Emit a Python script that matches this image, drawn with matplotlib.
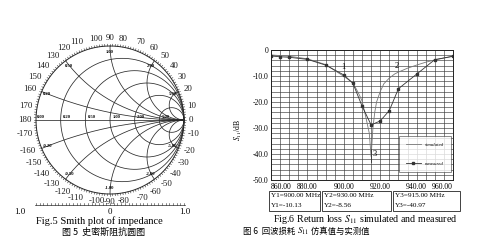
import numpy as np
import matplotlib
matplotlib.use("Agg")
import matplotlib.pyplot as plt
from matplotlib.patches import Rectangle

plt.rcParams['font.family'] = ['Liberation Serif', 'Noto Sans CJK SC', 'DejaVu Sans']
plt.rcParams['mathtext.fontset'] = 'stix'

# ---- data: Smith chart grid ----
r_vals = [0.2, 0.5, 1.0, 2.0, 5.0]
x_vals = [0.2, 0.5, 1.0, 2.0, 5.0]
grid_labels = ['0.20', '0.50', '1.00', '2.00', '5.00']
angle_vals = list(range(-170, 190, 10))

# ---- data: return loss ----
freq_sim = [860, 870, 880, 890, 900, 905, 908, 910, 912, 914, 915, 916, 917, 918, 920,
            922, 925, 928, 930, 935, 940, 945, 950, 955, 960]
s11_sim = [-1.9, -2.4, -3.4, -5.6, -10.13, -12.6, -16.5, -19.5, -25.5, -32.0, -40.97, -30.0,
           -24.0, -20.0, -16.0, -13.0, -10.8, -9.2, -8.5, -7.0, -5.8, -4.7, -3.8, -3.1, -2.4]
freq_meas = [860, 865, 870, 880, 890, 900, 905, 910, 915, 920, 925, 930, 940, 950, 960]
s11_meas = [-2.3, -2.6, -2.8, -3.6, -5.8, -9.6, -12.8, -21.5, -28.8, -27.3, -23.3, -14.9,
            -9.3, -3.7, -2.4]
xtick_vals = [860, 880, 900, 920, 940, 960]
xtick_labels = ['860.00', '880.00', '900.00', '920.00', '940.00', '960.00']
ytick_vals = [-50, -40, -30, -20, -10, 0]
ytick_labels = ['-50.0', '-40.0', '-30.0', '-20.0', '-10.0', '0']
marker_freq = [900, 930, 915]
marker_val = [-10.13, -8.56, -40.97]
marker_names = ['1', '2', '3']

W, H = 482, 244


def fx(px):
    return px / W


def fy(py):
    return 1 - py / H


fig = plt.figure(figsize=(W / 100, H / 100), dpi=100)

# ================= Smith chart =================
cx, cy, R = 110, 120, 74
ax = fig.add_axes([0, 0, 240 / W, 1])
ax.set_xlim(-cx / R, (240 - cx) / R)
ax.set_ylim(-(H - cy) / R, cy / R)
ax.axis('off')

lc = '#2a2a2a'
lw = 0.55


def gamma(z):
    return (z - 1) / (z + 1)


t = np.linspace(0, 2 * np.pi, 400)
ax.plot(np.cos(t), np.sin(t), color=lc, lw=0.7)
ax.plot([-1, 1], [0, 0], color=lc, lw=lw)

for r in r_vals:
    xx = np.tan(np.linspace(-np.pi / 2 + 1e-4, np.pi / 2 - 1e-4, 600))
    g = gamma(r + 1j * xx)
    ax.plot(g.real, g.imag, color=lc, lw=lw)

for x in x_vals:
    rr = np.tan(np.linspace(0, np.pi / 2 - 1e-4, 600))
    for s in (1, -1):
        g = gamma(rr + 1j * s * x)
        ax.plot(g.real, g.imag, color=lc, lw=lw)

# tick marks round the rim
for a in np.arange(0, 360, 2):
    ang = np.radians(a)
    ax.plot([np.cos(ang), 1.025 * np.cos(ang)], [np.sin(ang), 1.025 * np.sin(ang)],
            color=lc, lw=0.4)

# angle labels
for a in angle_vals:
    ang = np.radians(a)
    c, s = np.cos(ang), np.sin(ang)
    ha = 'left' if c > 0.25 else ('right' if c < -0.25 else 'center')
    va = 'bottom' if s > 0.25 else ('top' if s < -0.25 else 'center')
    ax.text(1.06 * c, 1.06 * s, str(a), fontsize=6.3, ha=ha, va=va, color='#1a1a1a')

# inner grid labels
ax.text(-0.99, 0.02, '0.00', fontsize=3.3, fontweight='bold', ha='left', va='bottom')
for r, lab in zip(r_vals, grid_labels):
    g = gamma(r)
    ax.text(g + 0.03, 0.02, lab, fontsize=3.3, fontweight='bold', ha='left', va='bottom')
for x, lab in zip(x_vals, grid_labels):
    g = gamma(1j * x)
    ang = np.angle(g)
    ax.text(0.92 * np.cos(ang), 0.92 * np.sin(ang), lab, fontsize=3.3,
            fontweight='bold', ha='center', va='center')
    ax.text(0.92 * np.cos(ang), -0.92 * np.sin(ang), '-' + lab, fontsize=3.3,
            fontweight='bold', ha='center', va='center')

# radial scale below the chart
sy = (cy - 205) / R
ax.plot([-1.01, 1.01], [sy, sy], color=lc, lw=0.5)
for v in np.arange(-1.0, 1.001, 0.05):
    ax.plot([v, v], [sy, sy + 0.025], color=lc, lw=0.4)
ax.text(-1.22, (cy - 212) / R, '1.0', fontsize=6.3, ha='center', va='center')
ax.text(0, (cy - 212) / R, '0', fontsize=6.3, ha='center', va='center')
ax.text(1.01, (cy - 212) / R, '1.0', fontsize=6.3, ha='center', va='center')

fig.text(fx(99), fy(221), 'Fig.5 Smith plot of impedance', fontsize=7.5,
         ha='center', va='center')
fig.text(fx(104), fy(232), '图 5  史密斯阻抗圆图', fontsize=6.5, ha='center', va='center',
         family=['Noto Sans CJK SC', 'Liberation Serif'])

# ================= Return loss =================
bx = fig.add_axes([fx(271), fy(180), 182 / W, 130 / H])
bx.plot(freq_sim, s11_sim, color='#777777', lw=0.6, label='simulated')
bx.plot(freq_meas, s11_meas, color='#333333', lw=0.6, marker='s', ms=1.6,
        label='measured')
bx.set_xlim(860, 960)
bx.set_ylim(-50, 0)
bx.set_xticks(xtick_vals)
bx.set_xticklabels(xtick_labels)
bx.set_yticks(ytick_vals)
bx.set_yticklabels(ytick_labels)
bx.set_xticks(np.arange(860, 961, 5), minor=True)
bx.set_yticks(np.arange(-50, 1, 2), minor=True)
bx.grid(True, which='both', color='#3a3a3a', lw=0.45)
bx.tick_params(which='both', length=0, labelsize=5.5, pad=2)
xl = bx.get_xticklabels()
xl[0].set_horizontalalignment('left')
xl[-1].set_horizontalalignment('right')
for sp in bx.spines.values():
    sp.set_color('#222')
    sp.set_linewidth(0.7)

bx.text(900, -8.0, marker_names[0], fontsize=6, ha='center', va='bottom')
bx.text(929, -7.6, marker_names[1], fontsize=6, ha='center', va='bottom')
bx.plot([915, 915], [-43, -38], color='#333', lw=0.6)
bx.text(916, -40, marker_names[2], fontsize=6, ha='left', va='center')

leg = bx.legend(loc='lower right', bbox_to_anchor=(1.0, 0.04),
                prop={'size': 3.5, 'style': 'italic'}, frameon=True, fancybox=False,
                edgecolor='#333', handlelength=3.2, borderpad=1.3, labelspacing=3.0)
leg.get_frame().set_linewidth(0.5)

fig.text(fx(238), fy(130), '$S_{11}$/dB', fontsize=5.5, rotation=90,
         ha='center', va='center')

# marker table
cells = [(269, 320), (322, 391), (393, 460)]
for (x0, x1), f, v, n in zip(cells, marker_freq, marker_val, marker_names):
    fig.patches.append(Rectangle((fx(x0), fy(211)), (x1 - x0) / W, 20 / H,
                                 transform=fig.transFigure, fill=False,
                                 edgecolor='#222', lw=0.6))
    fig.text(fx(x0 + 2), fy(195.5), 'Y%s=%.2f MHz' % (n, f), fontsize=5.2,
             ha='left', va='center')
    fig.text(fx(x0 + 2), fy(205.5), 'Y%s=%.2f' % (n, v), fontsize=5.2,
             ha='left', va='center')

fig.text(fx(273), fy(219.5), 'Fig.6 Return loss $S_{11}$ simulated and measured',
         fontsize=7.2, ha='left', va='center')
t1 = fig.text(fx(243), fy(231), '图 6  回波损耗 ', fontsize=6, ha='left', va='center',
              family=['Noto Sans CJK SC', 'Liberation Serif'])
a2 = bx.annotate('$S_{11}$', xy=(1, 0.5), xycoords=t1, ha='left', va='center',
                 fontsize=6.5, annotation_clip=False)
bx.annotate(' 仿真值与实测值', xy=(1, 0.5), xycoords=a2, ha='left', va='center',
            fontsize=6, family=['Noto Sans CJK SC', 'Liberation Serif'],
            annotation_clip=False)

fig.savefig('out.png', dpi=100)
